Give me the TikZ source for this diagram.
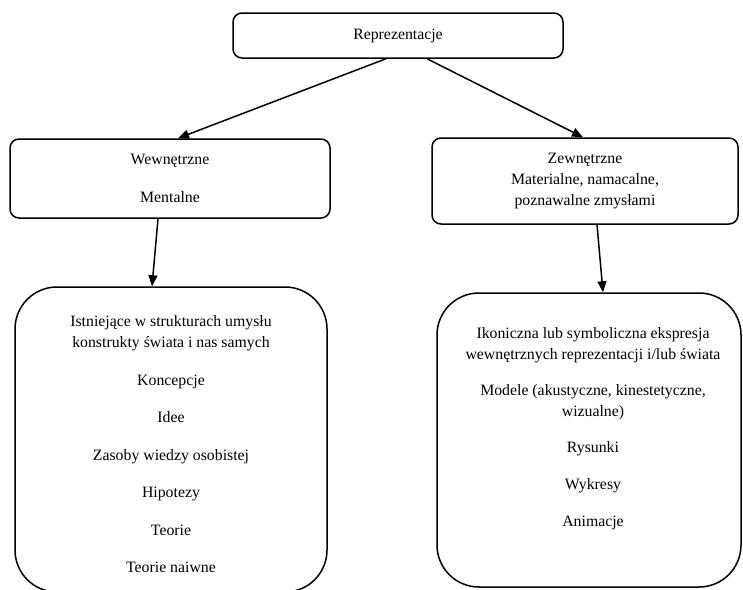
\documentclass[tikz,border=0pt]{standalone}
\usepackage{fontspec}
\setmainfont{Liberation Serif}
\usepackage{tikz}
\usetikzlibrary{arrows.meta, positioning}

\tikzset{
	box/.style={draw, line width=1.5pt, rounded corners=9pt, align=center, inner sep=0pt, font=\fontsize{15.8}{21}\selectfont},
	bigbox/.style={draw, line width=1.5pt, rounded corners=42pt, inner sep=0pt},
	listtext/.style={align=center, inner sep=0pt, font=\fontsize{15.8}{21}\selectfont},
	link/.style={-{Triangle[length=11pt,width=9pt]}, line width=1.5pt}
}

\begin{document}
\begin{tikzpicture}[x=1pt, y=-1pt]
			\useasboundingbox (0,0) rectangle (743,589);
			% top
			\node[box, minimum width=330, minimum height=45] (repr) at (398,35.5) {Reprezentacje};
			% middle row
			\node[box, minimum width=320, minimum height=79] (wew) at (170,178.5) {Wewnętrzne\\[17pt]Mentalne};
			\node[box, minimum width=306, minimum height=86] (zew) at (585,181) {Zewnętrzne\\Materialne, namacalne,\\poznawalne zmysłami};
			% big boxes
			\node[bigbox, minimum width=312, minimum height=305] (wewBox) at (171,439.5) {};
			\node[bigbox, minimum width=304, minimum height=294] (zewBox) at (589,440) {};
			\node[listtext, anchor=north] (wewList) at (171,315.5) {Istniejące w strukturach umysłu\\konstrukty świata i nas samych\\[16.5pt]
				Koncepcje\\[16.5pt]Idee\\[16.5pt]Zasoby wiedzy osobistej\\[16.5pt]Hipotezy\\[16.5pt]Teorie\\[16.5pt]Teorie naiwne};
			\node[listtext, anchor=north] (zewList) at (593,327.5) {Ikoniczna lub symboliczna ekspresja\\wewnętrznych reprezentacji i/lub świata\\[15pt]
				Modele (akustyczne, kinestetyczne,\\wizualne)\\[15pt]Rysunki\\[16pt]Wykresy\\[16pt]Animacje};
			% arrows
			\draw[link] ([xshift=-12pt]repr.south) -- ([xshift=8pt]wew.north);
			\draw[link] ([xshift=29pt]repr.south) -- ([xshift=-2pt]zew.north);
			\draw[link] ([xshift=-12pt]wew.south) -- ([xshift=-19pt]wewBox.north);
			\draw[link] ([xshift=12pt]zew.south) -- ([xshift=14pt]zewBox.north);
\end{tikzpicture}
\end{document}
